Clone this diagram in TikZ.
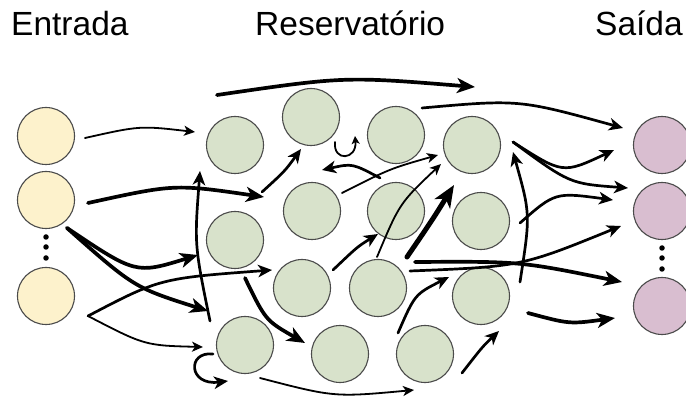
\documentclass[tikz,border=0pt]{standalone}
\usepackage{fontspec}
\setmainfont{Liberation Sans}
\usetikzlibrary{arrows.meta,calc}
\definecolor{inyel}{RGB}{253,242,204}
\definecolor{resgrn}{RGB}{216,226,203}
\definecolor{outpnk}{RGB}{217,190,208}
\definecolor{rim}{RGB}{75,75,75}
% curved link: name, style, start, point at middle, end
\newcommand\link[5]{%
  \coordinate (#1s) at (#3);
  \coordinate (#1m) at (#4);
  \coordinate (#1e) at (#5);
  \draw[#2] (#1s) .. controls ($1.33333*(#1m)-0.16667*(#1s)-0.16667*(#1e)$) .. (#1e);}
\begin{document}
\begin{tikzpicture}[x=1pt,y=-1pt,
  neuron/.style={circle,draw=rim,line width=1.1pt,minimum size=57pt,inner sep=0pt},
  inp/.style={neuron,fill=inyel},
  res/.style={neuron,fill=resgrn},
  outp/.style={neuron,fill=outpnk},
  dotnode/.style={circle,fill=black,minimum size=5.5pt,inner sep=0pt},
  title/.style={anchor=base west,inner sep=0pt,font=\fontsize{33.5}{40}\selectfont},
  thinarr/.style={line width=1.8pt,line cap=round,-{Stealth[length=11pt,width=10pt,inset=3pt]}},
  medarr/.style={line width=2.7pt,line cap=round,-{Stealth[length=14pt,width=12.5pt,inset=4pt]}},
  thickarr/.style={line width=3.7pt,line cap=round,-{Stealth[length=18pt,width=15pt,inset=5pt]}},
  boldarr/.style={line width=5pt,line cap=round,-{Stealth[length=22pt,width=18pt,inset=6pt]}}]
\useasboundingbox (0,0) rectangle (686,398);
\fill[white] (0,0) rectangle (686,398);

% titles
\node[title] (tin) at (11,36) {Entrada};
\node[title] (tres) at (255,36) {Reservatório};
\node[title] (tout) at (595,36) {Saída};

% input layer
\node[inp] (I1) at (46,136) {};
\node[inp] (I2) at (46,200) {};
\node[inp] (I3) at (46,296) {};
\node[dotnode] (di1) at (46,237) {};
\node[dotnode] (di2) at (46,247) {};
\node[dotnode] (di3) at (46,258) {};

% reservoir
\node[res] (R1) at (235,145) {};
\node[res] (R2) at (311,117) {};
\node[res] (R3) at (396,135) {};
\node[res] (R4) at (312,211) {};
\node[res] (R5) at (396,211) {};
\node[res] (R6) at (235,240) {};
\node[res] (R7) at (302,288) {};
\node[res] (R8) at (378,288) {};
\node[res] (R9) at (245,345) {};
\node[res] (R10) at (340,354) {};
\node[res] (R11) at (425,354) {};
\node[res] (R12) at (472,145) {};
\node[res] (R13) at (481,221) {};
\node[res] (R14) at (481,296) {};

% output layer
\node[outp] (O1) at (662,145) {};
\node[outp] (O2) at (662,211) {};
\node[outp] (O3) at (662,306) {};
\node[dotnode] (do1) at (662,248) {};
\node[dotnode] (do2) at (662,258) {};
\node[dotnode] (do3) at (662,269) {};

% input connections
\link{a1}{thinarr}{85,138}{140,128}{195,132}
\link{a2}{thickarr}{88,203}{175,188}{264,197}
\link{a3}{medarr}{262,192}{284,171}{301,149}
\link{a4}{thickarr}{67,228}{135,266}{198,255}
\link{a5}{thickarr}{67,228}{135,283}{208,311}
\link{a6}{medarr}{88,316}{165,282}{272,270}
\link{a7}{thinarr}{88,316}{145,342}{203,347}

% reservoir connections
\link{b1}{medarr}{210,321}{197,245}{200,171}
\link{b2}{thickarr}{217,95}{345,80}{475,87}
\link{b3}{medarr}{380,178}{352,166}{322,170}
\link{b4}{thinarr}{342,193}{390,170}{438,155}
\link{b5}{thinarr}{377,257}{402,205}{441,164}
\link{b6}{medarr}{333,270}{357,248}{378,234}
\link{b7}{boldarr}{407,257}{432,220}{454,185}
\link{b8}{medarr}{398,333}{417,297}{449,277}
\link{b9}{medarr}{462,373}{482,348}{499,331}
\link{b10}{thinarr}{260,378}{335,394}{414,390}
\link{b11}{thickarr}{245,278}{268,318}{305,343}
\link{b12}{medarr}{520,282}{527,215}{513,152}

% self loops
\coordinate (l1s) at (213,354);
\coordinate (l1e) at (228,381);
\draw[medarr] (l1s) .. controls (187,351) and (188,386) .. (l1e);
\coordinate (l2s) at (335,142);
\coordinate (l2e) at (355,136);
\draw[thinarr,-{Stealth[length=8pt,width=8pt,inset=2pt]}] (l2s) .. controls (333,162) and (357,160) .. (l2e);

% readout connections
\link{c1}{medarr}{422,108}{520,104}{623,128}
\link{c2}{thickarr}{415,262}{520,264}{622,282}
\link{c3}{medarr}{410,271}{520,262}{621,226}
\link{c4}{medarr}{513,142}{563,167}{614,150}
\link{c5}{medarr}{513,142}{570,179}{628,188}
\link{c6}{medarr}{520,223}{558,197}{613,200}
\link{c7}{thickarr}{528,313}{570,322}{615,318}
\end{tikzpicture}
\end{document}
